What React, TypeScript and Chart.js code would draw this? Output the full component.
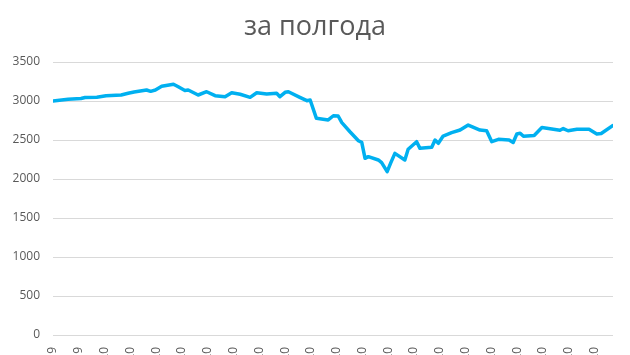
import React, { useEffect, useRef } from "react";
import { Chart, registerables } from "chart.js";

Chart.register(...registerables);

const TITLE = "за полгода";

// Days since 19.12.2019 (first tick)
const dayOffsets = [
  0, 4.1, 7.6, 8.7, 11.9, 14.4, 18.5, 20.4, 22.0, 25.4,
  26.5, 27.8, 29.5, 32.7, 34.0, 35.8, 36.7, 39.4, 41.7, 44.0,
  46.7, 48.5, 50.8, 53.5, 55.3, 58.0, 60.7, 61.6, 63.0, 63.9,
  67.0, 68.9, 69.8, 71.5, 74.7, 76.1, 77.4, 78.4, 80.6, 82.9,
  83.8, 84.7, 85.6, 88.3, 89.2, 90.7, 91.7, 92.8, 95.5, 96.4,
  98.7, 99.6, 102.8, 103.7, 104.6, 105.9, 108.2, 110.5, 112.7, 115.9,
  117.7, 119.1, 120.9, 123.8, 124.9, 125.9, 126.8, 127.7, 130.6, 132.7,
  137.6, 138.5, 139.8, 142.2, 145.5, 147.6, 148.8, 152,
];

const indexValues = [
  3000, 3022, 3032, 3045, 3048, 3068, 3077, 3099, 3115, 3141,
  3124, 3141, 3188, 3215, 3183, 3135, 3141, 3077, 3119, 3068,
  3055, 3106, 3086, 3047, 3106, 3090, 3099, 3055, 3111, 3119,
  3047, 3004, 3013, 2778, 2757, 2811, 2808, 2722, 2606, 2491,
  2470, 2265, 2286, 2244, 2209, 2094, 2209, 2329, 2244, 2381,
  2478, 2393, 2406, 2500, 2458, 2551, 2594, 2628, 2692, 2628,
  2619, 2478, 2509, 2500, 2468, 2577, 2586, 2547, 2558, 2660,
  2624, 2647, 2619, 2637, 2637, 2577, 2583, 2686,
];

const tickLabels = [
  "19.12.2019", "26.12.2019", "02.01.2020", "09.01.2020", "16.01.2020",
  "23.01.2020", "30.01.2020", "06.02.2020", "13.02.2020", "20.02.2020",
  "27.02.2020", "05.03.2020", "12.03.2020", "19.03.2020", "26.03.2020",
  "02.04.2020", "09.04.2020", "16.04.2020", "23.04.2020", "30.04.2020",
  "07.05.2020", "14.05.2020",
];

const TICK_STEP_DAYS = 7;
const X_MAX_DAYS = 152;
const Y_MAX = 3500;
const Y_STEP = 500;

const TEXT_COLOR = "#595959";
const GRID_COLOR = "#d9d9d9";
const LINE_COLOR = "#00B0F0";
const FONT_FAMILY = "'Open Sans', 'Noto Sans', sans-serif";

export default function App() {
  const ref = useRef<HTMLCanvasElement>(null);

  useEffect(() => {
    if (!ref.current) return;
    const chart = new Chart(ref.current, {
      type: "line",
      data: {
        datasets: [
          {
            data: dayOffsets.map((d, i) => ({ x: d, y: indexValues[i] })),
            borderColor: LINE_COLOR,
            backgroundColor: LINE_COLOR,
            borderWidth: 3.5,
            pointRadius: 0,
            pointHoverRadius: 0,
            tension: 0,
            fill: false,
            borderJoinStyle: "round",
            borderCapStyle: "round",
            yAxisID: "y",
          },
        ],
      },
      options: {
        responsive: false,
        animation: false,
        layout: { padding: { left: 0, right: 0, top: 0, bottom: 0 } },
        plugins: {
          legend: { display: false },
          tooltip: { enabled: false },
          title: {
            display: true,
            text: TITLE,
            color: TEXT_COLOR,
            font: { family: FONT_FAMILY, size: 27, weight: "normal", lineHeight: 1.2 },
            padding: { top: 11, bottom: 18.6 },
          },
        },
        scales: {
          x: {
            type: "linear",
            min: 0,
            max: X_MAX_DAYS,
            ticks: {
              stepSize: TICK_STEP_DAYS,
              includeBounds: false,
              autoSkip: false,
              minRotation: 90,
              maxRotation: 90,
              padding: 4,
              color: TEXT_COLOR,
              font: { family: FONT_FAMILY, size: 12 },
              callback: (v: any) => tickLabels[Math.round(Number(v) / TICK_STEP_DAYS)] ?? "",
            },
            grid: { display: false },
            border: { display: false },
            afterFit: (s: any) => {
              s.height = 65;
            },
          },
          y: {
            position: "left",
            min: 0,
            max: Y_MAX,
            ticks: {
              stepSize: Y_STEP,
              padding: 13,
              color: TEXT_COLOR,
              font: { family: FONT_FAMILY, size: 12 },
              callback: (v: any) => String(v),
            },
            grid: { color: GRID_COLOR, lineWidth: 1, drawTicks: false },
            border: { display: false },
            afterFit: (s: any) => {
              s.width = 53;
            },
          },
          yRight: {
            position: "right",
            min: 0,
            max: Y_MAX,
            ticks: { display: false },
            grid: { display: false, drawTicks: false },
            border: { display: false },
            afterFit: (s: any) => {
              s.width = 17;
            },
          },
        },
      } as any,
    });
    return () => chart.destroy();
  }, []);

  return (
    <div style={{ position: "fixed", left: 0, top: 0, width: 630, height: 400, background: "#fff" }}>
      <canvas ref={ref} width={630} height={400} style={{ display: "block" }} />
    </div>
  );
}
